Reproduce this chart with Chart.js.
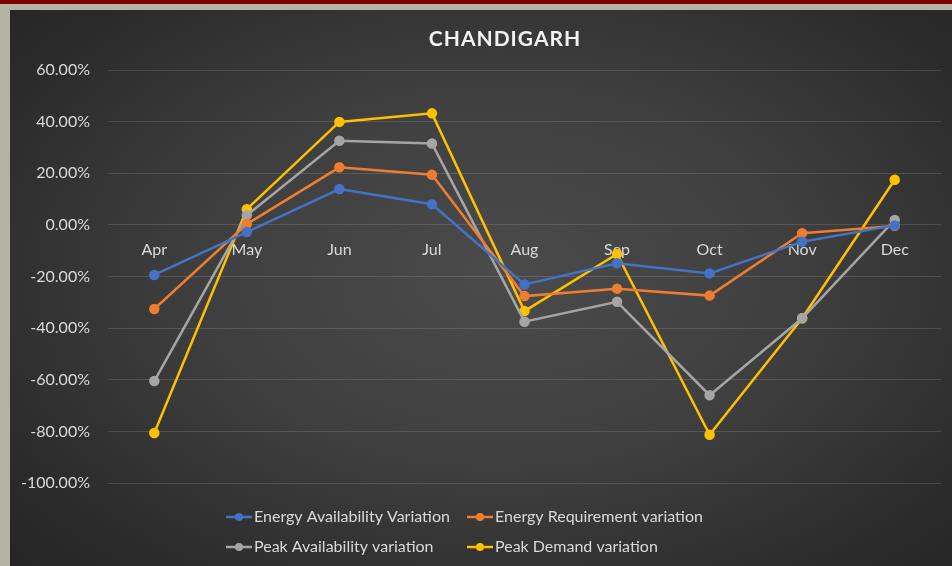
<!DOCTYPE html>
<html>
<head>
<meta charset="utf-8">
<script src="https://cdn.jsdelivr.net/npm/chart.js@4.4.1/dist/chart.umd.min.js"></script>
<style>
    html, body { margin: 0; padding: 0; }
    body {
        width: 952px; height: 566px; overflow: hidden;
        background: #b4b4a4;
        position: relative;
    }
    .topbar { position: absolute; left: 0; top: 0; width: 952px; height: 4px; background: #7f0000; }
    .box {
        position: absolute; left: 10px; top: 10px; width: 942px; height: 556px;
        background: radial-gradient(ellipse 70% 75% at 52% 48%, #4b4b4b 0%, #3f3f3f 45%, #2b2b2b 85%, #262626 100%);
    }
</style>
</head>
<body>
<div class="topbar"></div>
<div class="box"><canvas id="grafik" width="942" height="556"></canvas></div>
<script>
const months = ['Apr', 'May', 'Jun', 'Jul', 'Aug', 'Sep', 'Oct', 'Nov', 'Dec'];
const energyAvailability = [-19.4, -2.8, 13.9, 8.0, -23.1, -14.9, -18.8, -6.5, -0.2]; // %
const energyRequirement = [-32.6, 0.3, 22.3, 19.4, -27.6, -24.7, -27.4, -3.2, -0.4];
const peakAvailability = [-60.5, 3.7, 32.6, 31.5, -37.5, -29.8, -66.0, -36.2, 1.9];
const peakDemand = [-80.6, 6.1, 39.9, 43.2, -33.4, -11.3, -81.3, -36.2, 17.5];
const yTicks = [60, 40, 20, 0, -20, -40, -60, -80, -100];

const FONT = 'Lato';
const TEXT = '#d9d9d9';

function seri(label, values, color) {
    return {
        label: label,
        data: values,
        borderColor: color,
        backgroundColor: color,
        borderWidth: 2.5,
        pointRadius: 4,
        pointHoverRadius: 4,
        tension: 0
    };
}

// judul dan legenda digambar sendiri supaya posisinya sama dengan gambar
const hiasan = {
    id: 'hiasan',
    afterDraw(chart) {
        const c = chart.ctx;
        c.save();
        c.fillStyle = '#f2f2f2';
        c.font = 'bold 21px ' + FONT;
        c.textAlign = 'center';
        c.textBaseline = 'middle';
        if ('letterSpacing' in c) c.letterSpacing = '1px';
        c.fillText('CHANDIGARH', 495, 29);
        if ('letterSpacing' in c) c.letterSpacing = '0px';

        const cols = [216, 457];
        const rows = [507, 537];
        chart.data.datasets.forEach((ds, i) => {
            const x = cols[i % 2];
            const y = rows[Math.floor(i / 2)];
            c.strokeStyle = ds.borderColor;
            c.lineWidth = 2.5;
            c.beginPath();
            c.moveTo(x, y);
            c.lineTo(x + 26, y);
            c.stroke();
            c.fillStyle = ds.borderColor;
            c.beginPath();
            c.arc(x + 13, y, 4, 0, Math.PI * 2);
            c.fill();
            c.fillStyle = TEXT;
            c.font = '16px ' + FONT;
            c.textAlign = 'left';
            c.fillText(ds.label, x + 28, y);
        });
        c.restore();
    }
};

const config = {
    type: 'line',
    data: {
        labels: months,
        datasets: [
            seri('Energy Availability Variation', energyAvailability, '#4472c4'),
            seri('Energy Requirement variation', energyRequirement, '#ed7d31'),
            seri('Peak Availability variation', peakAvailability, '#a5a5a5'),
            seri('Peak Demand variation', peakDemand, '#ffc000')
        ]
    },
    options: {
        responsive: false,
        animation: false,
        layout: { padding: { left: 0, right: 11, top: 60, bottom: 83 } },
        plugins: {
            legend: { display: false },
            title: { display: false },
            tooltip: { enabled: false }
        },
        scales: {
            x: {
                position: { y: 0 },
                offset: true,
                grid: { display: false },
                border: { display: false },
                ticks: { color: TEXT, font: { family: FONT, size: 16 }, padding: 7 }
            },
            y: {
                min: -100,
                max: 60,
                afterFit(scale) { scale.width = 98; },
                afterBuildTicks(scale) { scale.ticks = yTicks.map(v => ({ value: v })); },
                grid: { color: 'rgba(255,255,255,0.13)', lineWidth: 1, drawTicks: false },
                border: { display: false },
                ticks: {
                    color: TEXT,
                    font: { family: FONT, size: 16 },
                    padding: 18,
                    callback: v => v.toFixed(2) + '%'
                }
            }
        }
    },
    plugins: [hiasan]
};

const ctx = document.getElementById('grafik').getContext('2d');
new Chart(ctx, config);
</script>
</body>
</html>
